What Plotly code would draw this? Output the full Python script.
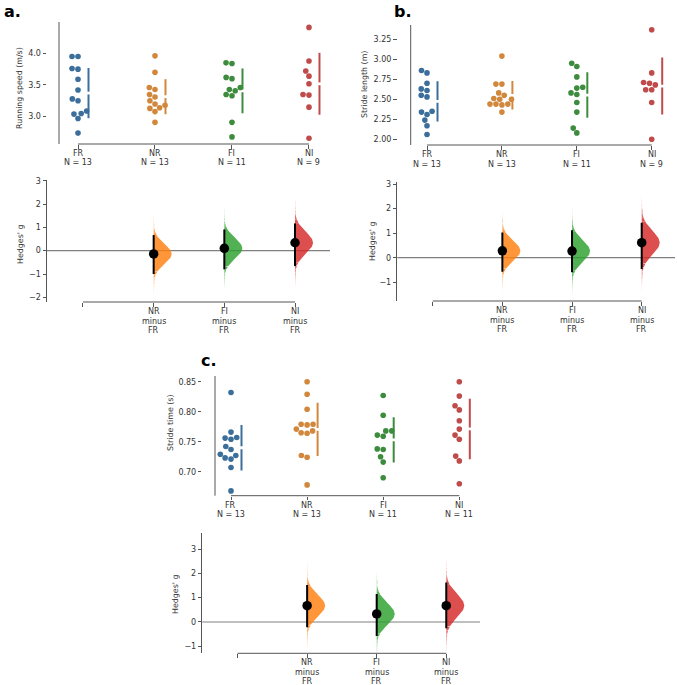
import numpy as np
import plotly.graph_objects as go

W, H = 677, 685

CATEGORIES = ["FR", "NR", "FI", "NI"]

# Panel a: running speed (m/s)
SPEED_FR = [3.95, 3.95, 3.76, 3.75, 3.59, 3.42, 3.28, 3.25, 3.09, 3.05, 3.04, 2.97, 2.74]
SPEED_NR = [3.96, 3.70, 3.46, 3.43, 3.35, 3.31, 3.25, 3.20, 3.18, 3.14, 3.13, 3.08, 2.91]
SPEED_FI = [3.85, 3.84, 3.62, 3.60, 3.46, 3.43, 3.41, 3.35, 3.33, 2.91, 2.68]
SPEED_NI = [4.41, 3.88, 3.72, 3.64, 3.52, 3.35, 3.34, 3.15, 2.66]
G_SPEED = [-0.14, 0.10, 0.34]
G_SPEED_LO = [-1.00, -0.80, -0.66]
G_SPEED_HI = [0.67, 0.91, 1.17]

# Panel b: stride length (m)
LEN_FR = [2.86, 2.83, 2.70, 2.63, 2.61, 2.55, 2.53, 2.35, 2.34, 2.31, 2.24, 2.17, 2.06]
LEN_NR = [3.04, 2.69, 2.69, 2.58, 2.55, 2.51, 2.50, 2.50, 2.44, 2.43, 2.44, 2.44, 2.34]
LEN_FI = [2.95, 2.91, 2.78, 2.65, 2.64, 2.58, 2.56, 2.46, 2.34, 2.14, 2.08]
LEN_NI = [3.37, 2.83, 2.71, 2.70, 2.68, 2.62, 2.62, 2.46, 2.00]
G_LEN = [0.28, 0.27, 0.61]
G_LEN_LO = [-0.57, -0.59, -0.46]
G_LEN_HI = [1.03, 1.12, 1.42]

# Panel c: stride time (s)
TIME_FR = [0.832, 0.766, 0.756, 0.754, 0.757, 0.742, 0.737, 0.729, 0.727, 0.723, 0.721, 0.707, 0.668]
TIME_NR = [0.850, 0.829, 0.804, 0.779, 0.778, 0.779, 0.771, 0.765, 0.764, 0.768, 0.727, 0.724, 0.678]
TIME_FI = [0.827, 0.794, 0.768, 0.768, 0.761, 0.759, 0.738, 0.737, 0.725, 0.716, 0.690]
TIME_NI = [0.850, 0.826, 0.810, 0.803, 0.785, 0.771, 0.761, 0.754, 0.726, 0.718, 0.680]
G_TIME = [0.67, 0.33, 0.67]
G_TIME_LO = [-0.22, -0.58, -0.26]
G_TIME_HI = [1.52, 1.15, 1.62]

SWARM_COLORS = ["#3b6e9b", "#d1883c", "#3d8b3d", "#c04b4b"]
VIOLIN_RGB = [(255, 127, 14), (44, 160, 44), (214, 39, 40)]
TXT = "#333333"
SPINE = "#555555"
FONT = "DejaVu Sans"

PANELS = [
    dict(label="a.", label_xy=(12, 11),
         raw=[SPEED_FR, SPEED_NR, SPEED_FI, SPEED_NI], ytitle="Running speed (m/s)",
         top=dict(xdom=(47, 330), spine_x=59, ydom=(22, 144), xr=(-0.4026, 3.273), yr=(2.568, 4.495),
                  tickvals=[3.0, 3.5, 4.0], fmt=".1f", title_xy=(20, 88)),
         es=G_SPEED, lo=G_SPEED_LO, hi=G_SPEED_HI,
         bot=dict(xdom=(47, 330), ydom=(180, 302), xr=(-0.509, 3.495), yr=(-2.2, 3.03),
                  tickvals=[-2, -1, 0, 1, 2, 3], title_xy=(20, 245))),
    dict(label="b.", label_xy=(403, 12),
         raw=[LEN_FR, LEN_NR, LEN_FI, LEN_NI], ytitle="Stride length (m)",
         top=dict(xdom=(397.5, 675), spine_x=410.7, ydom=(25, 145), xr=(-0.3939, 3.311), yr=(1.929, 3.429),
                  tickvals=[2.0, 2.25, 2.5, 2.75, 3.0, 3.25], fmt=".2f", title_xy=(365, 85)),
         es=G_LEN, lo=G_LEN_LO, hi=G_LEN_HI,
         bot=dict(xdom=(397.3, 675), ydom=(181.7, 301), xr=(-0.508, 3.478), yr=(-1.763, 3.094),
                  tickvals=[-1, 0, 1, 2, 3], title_xy=(372, 242))),
    dict(label="c.", label_xy=(209, 360),
         raw=[TIME_FR, TIME_NR, TIME_FI, TIME_NI], ytitle="Stride time (s)",
         top=dict(xdom=(202.3, 480), spine_x=215, ydom=(376, 495.7), xr=(-0.3771, 3.272), yr=(0.66, 0.8595),
                  tickvals=[0.70, 0.75, 0.80, 0.85], fmt=".2f", title_xy=(170, 423)),
         es=G_TIME, lo=G_TIME_LO, hi=G_TIME_HI,
         bot=dict(xdom=(202.3, 480), ydom=(532.7, 653.3), xr=(-0.507, 3.485), yr=(-1.287, 3.67),
                  tickvals=[-1, 0, 1, 2, 3], title_xy=(175, 595))),
]


def swarm_offsets(values, ppy, d):
    vals = np.asarray(values, dtype=float)
    order = np.argsort(vals, kind="stable")
    placed = []
    offs = np.zeros(len(vals))
    for i in order:
        y = vals[i] * ppy
        cands = [0.0]
        for px, py in placed:
            dy = abs(py - y)
            if dy < d:
                dx = np.sqrt(d * d - dy * dy)
                cands += [px + dx, px - dx]
        cands.sort(key=lambda c: (round(abs(c), 6), c))
        for c in cands:
            if all((c - px) ** 2 + (y - py) ** 2 >= d * d - 1e-6 for px, py in placed):
                offs[i] = c
                placed.append((c, y))
                break
    return offs


fig = go.Figure()
layout = dict(width=W, height=H, autosize=False, margin=dict(l=0, r=0, t=0, b=0, pad=0),
              template="none",
              plot_bgcolor="white", paper_bgcolor="white", showlegend=False,
              font=dict(family=FONT, color=TXT, size=8))
shapes, annotations = [], []
ax_i = 0


def text_ann(text, px, py, size, angle=0, color=TXT):
    return dict(text=text, x=px / W, y=1 - py / H, xref="paper", yref="paper",
                xanchor="center", yanchor="middle", textangle=angle, showarrow=False,
                font=dict(size=size, color=color, family=FONT))


def add_axes(box, ticklines, ytickfmt=None):
    global ax_i
    ax_i += 1
    sfx = "" if ax_i == 1 else str(ax_i)
    xd = [box["xdom"][0] / W, box["xdom"][1] / W]
    yd = [1 - box["ydom"][1] / H, 1 - box["ydom"][0] / H]
    detached = "spine_x" in box
    layout["xaxis" + sfx] = dict(domain=xd, range=list(box["xr"]), anchor="y" + sfx,
                                 showgrid=False, zeroline=False, showline=False, automargin=False,
                                 ticks="outside", ticklen=3.5, tickcolor=SPINE, tickwidth=1,
                                 tickvals=[0, 1, 2, 3], showticklabels=False, fixedrange=True)
    ya = dict(domain=yd, range=list(box["yr"]), anchor="x" + sfx, automargin=False,
              showgrid=False, zeroline=False, showline=not detached, linecolor=SPINE, linewidth=1,
              ticks="outside", ticklen=3.5, tickcolor=SPINE, tickwidth=1, tickvals=box["tickvals"],
              tickfont=dict(size=8, color=TXT, family=FONT), fixedrange=True)
    if ytickfmt:
        ya["tickformat"] = ytickfmt
    layout["yaxis" + sfx] = ya
    if detached:
        # left spine drawn offset from the tick marks (as in the reference)
        shapes.append(dict(type="line", xref="paper", yref="y" + sfx + " domain",
                           x0=box["spine_x"] / W, x1=box["spine_x"] / W, y0=0, y1=1,
                           line=dict(color=SPINE, width=1)))
    # trimmed bottom spine from first to last category
    shapes.append(dict(type="line", xref="x" + sfx, yref="y" + sfx + " domain",
                       x0=0, x1=3, y0=0, y1=0, line=dict(color=SPINE, width=1)))
    # category labels (one annotation per line for matplotlib-like spacing)
    base = box["ydom"][1]
    for k, lines in enumerate(ticklines):
        for li, t in enumerate(lines):
            if not t:
                continue
            annotations.append(dict(text=t, x=k, xref="x" + sfx, y=1 - (base + 9.6 + 9.4 * li) / H,
                                    yref="paper", showarrow=False, xanchor="center", yanchor="middle",
                                    font=dict(size=8, color=TXT, family=FONT)))
    ppx = (box["xdom"][1] - box["xdom"][0]) / (box["xr"][1] - box["xr"][0])
    ppy = (box["ydom"][1] - box["ydom"][0]) / (box["yr"][1] - box["yr"][0])
    return "x" + sfx, "y" + sfx, ppx, ppy


for P in PANELS:
    # ---------- raw data swarm panel ----------
    top = P["top"]
    ticklines = [[c, f"N = {len(v)}"] for c, v in zip(CATEGORIES, P["raw"])]
    xr, yr, ppx, ppy = add_axes(top, ticklines, top["fmt"])
    for gi, (vals, col) in enumerate(zip(P["raw"], SWARM_COLORS)):
        offs = swarm_offsets(vals, ppy, 6.0)
        fig.add_trace(go.Scatter(x=gi + offs / ppx, y=vals, mode="markers", xaxis=xr, yaxis=yr,
                                 marker=dict(size=5.6, color=col, line=dict(width=0)),
                                 hoverinfo="skip"))
        m = float(np.mean(vals))
        s = float(np.std(vals, ddof=1))
        gap = 1.4 / ppy
        xl = gi + 10.5 / ppx
        fig.add_trace(go.Scatter(x=[xl, xl, None, xl, xl], y=[m + s, m + gap, None, m - gap, m - s],
                                 mode="lines", xaxis=xr, yaxis=yr,
                                 line=dict(color=col, width=2), hoverinfo="skip"))
    annotations.append(text_ann(P["ytitle"], top["title_xy"][0], top["title_xy"][1], 7.9, -90))

    # ---------- effect size panel ----------
    bot = P["bot"]
    ticklines = [[]] + [[c, "minus", CATEGORIES[0]] for c in CATEGORIES[1:]]
    xr, yr, ppx, ppy = add_axes(bot, ticklines)
    shapes.append(dict(type="line", xref=xr + " domain", yref=yr, x0=0, x1=1, y0=0, y1=0,
                       line=dict(color="#808080", width=1.2), layer="below"))
    vw = 18.0 / ppx
    tail_w = 2.0 / ppx
    edges = np.concatenate([np.linspace(-4.4, -1.8, 9), np.linspace(1.8, 4.4, 9)])
    for j, (g, lo, hi, rgb) in enumerate(zip(P["es"], P["lo"], P["hi"], VIOLIN_RGB), start=1):
        sd = (hi - lo) / 3.92
        bands = [(edges[i], edges[i + 1]) for i in range(8)] + [(-1.8, 1.8)] + \
                [(edges[9 + i], edges[10 + i]) for i in range(8)]
        for z0, z1 in bands:
            zs = np.linspace(z0, z1, 60)
            w = np.maximum(vw * np.exp(-0.5 * zs ** 2), tail_w * np.clip(1 - np.abs(zs) / 4.4, 0, 1))
            zc = 0.5 * (abs(z0) + abs(z1)) if z0 * z1 > 0 else 0.0
            a = 0.82 if zc < 1.8 else 0.82 * max(0.08, 1 - (zc - 1.8) / 2.6)
            ys = g + zs * sd
            fig.add_trace(go.Scatter(x=np.concatenate([[j], j + w, [j]]),
                                     y=np.concatenate([[ys[0]], ys, [ys[-1]]]),
                                     mode="lines", fill="toself",
                                     fillcolor=f"rgba({rgb[0]},{rgb[1]},{rgb[2]},{a:.3f})",
                                     line=dict(width=0), xaxis=xr, yaxis=yr, hoverinfo="skip"))
        fig.add_trace(go.Scatter(x=[j, j], y=[lo, hi], mode="lines", xaxis=xr, yaxis=yr,
                                 line=dict(color="black", width=2), hoverinfo="skip"))
        fig.add_trace(go.Scatter(x=[j], y=[g], mode="markers", xaxis=xr, yaxis=yr,
                                 marker=dict(size=9.5, color="black"), hoverinfo="skip"))
    annotations.append(text_ann("Hedges' g", bot["title_xy"][0], bot["title_xy"][1], 7.9, -90))

    annotations.append(text_ann("<b>" + P["label"] + "</b>", P["label_xy"][0], P["label_xy"][1],
                                16, 0, "black"))

layout["shapes"] = shapes
layout["annotations"] = annotations
fig.update_layout(**layout)
fig.write_html("out.html", config={"displayModeBar": False, "staticPlot": True},
               post_script="document.body.style.margin='0';document.body.style.padding='0';")
